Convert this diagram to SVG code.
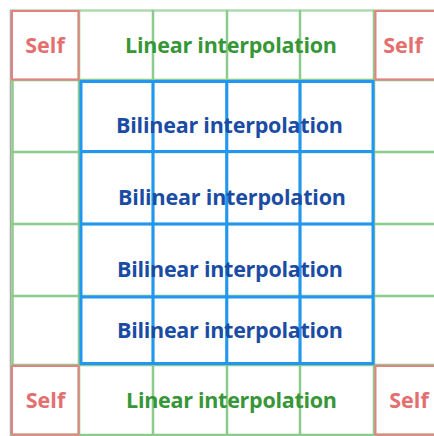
<svg xmlns="http://www.w3.org/2000/svg" width="434" height="436" viewBox="0 0 434 436">
  <style>
    .t { font-family: "Open Sans", "Liberation Sans", sans-serif; font-weight: bold; font-size: 21.5px; text-anchor: middle; }
    .self { fill: #e46f6f; }
    .lin { fill: #379637; }
    .bil { fill: #1b4ca3; }
    .g { stroke: #8ccb8c; stroke-width: 2.5; fill: none; }
    .r { stroke: #e88080; stroke-width: 2; fill: none; }
    .b { stroke: #2196f3; stroke-width: 3; fill: none; }
  </style>
  <rect width="434" height="436" fill="#ffffff"/>
  <g id="connectors">
    <line x1="10.5" y1="10" x2="10.5" y2="436" stroke="#a8a8a8" stroke-width="1.5"/>
    <g class="g">
      <line x1="10" y1="10.5" x2="434" y2="10.5" stroke-opacity="0.7"/>
      <line x1="10" y1="80" x2="434" y2="80"/>
      <line x1="10" y1="152" x2="434" y2="152"/>
      <line x1="10" y1="224" x2="434" y2="224"/>
      <line x1="10" y1="296" x2="434" y2="296"/>
      <line x1="10" y1="365" x2="434" y2="365"/>
      <line x1="10" y1="435" x2="434" y2="435"/>
      <line x1="12.5" y1="80" x2="12.5" y2="365"/>
      <line x1="79" y1="10" x2="79" y2="436"/>
      <line x1="153" y1="10" x2="153" y2="436"/>
      <line x1="227" y1="10" x2="227" y2="436"/>
      <line x1="300" y1="10" x2="300" y2="436"/>
      <line x1="374" y1="10" x2="374" y2="436"/>
    </g>
    <g class="b">
      <rect x="81" y="81.5" width="292" height="282"/>
      <line x1="81" y1="151.5" x2="373" y2="151.5"/>
      <line x1="81" y1="224" x2="373" y2="224"/>
      <line x1="81" y1="297" x2="373" y2="297"/>
      <line x1="153" y1="81.5" x2="153" y2="363.5"/>
      <line x1="226.7" y1="81.5" x2="226.7" y2="363.5"/>
      <line x1="300" y1="81.5" x2="300" y2="363.5"/>
    </g>
  </g>
  <g id="self-tl">
    <rect class="r" x="12" y="11" width="66.5" height="68.5"/>
    <text class="t self" x="45" y="53">Self</text>
  </g>
  <g id="self-tr">
    <rect class="r" x="375.5" y="11" width="60" height="68.5"/>
    <text class="t self" x="403" y="53">Self</text>
  </g>
  <g id="self-bl">
    <rect class="r" x="12" y="366" width="66.5" height="68.5"/>
    <text class="t self" x="45.5" y="408">Self</text>
  </g>
  <g id="self-br">
    <rect class="r" x="375.5" y="366" width="60" height="68.5"/>
    <text class="t self" x="409" y="408">Self</text>
  </g>
  <g id="linear-top">
    <text class="t lin" x="231" y="53" textLength="212">Linear interpolation</text>
  </g>
  <g id="bilinear-1">
    <text class="t bil" x="229.5" y="133" textLength="227">Bilinear interpolation</text>
  </g>
  <g id="bilinear-2">
    <text class="t bil" x="232" y="204.5" textLength="228">Bilinear interpolation</text>
  </g>
  <g id="bilinear-3">
    <text class="t bil" x="230" y="277" textLength="226">Bilinear interpolation</text>
  </g>
  <g id="bilinear-4">
    <text class="t bil" x="230" y="338" textLength="226">Bilinear interpolation</text>
  </g>
  <g id="linear-bottom">
    <text class="t lin" x="231.5" y="408" textLength="211">Linear interpolation</text>
  </g>
</svg>
